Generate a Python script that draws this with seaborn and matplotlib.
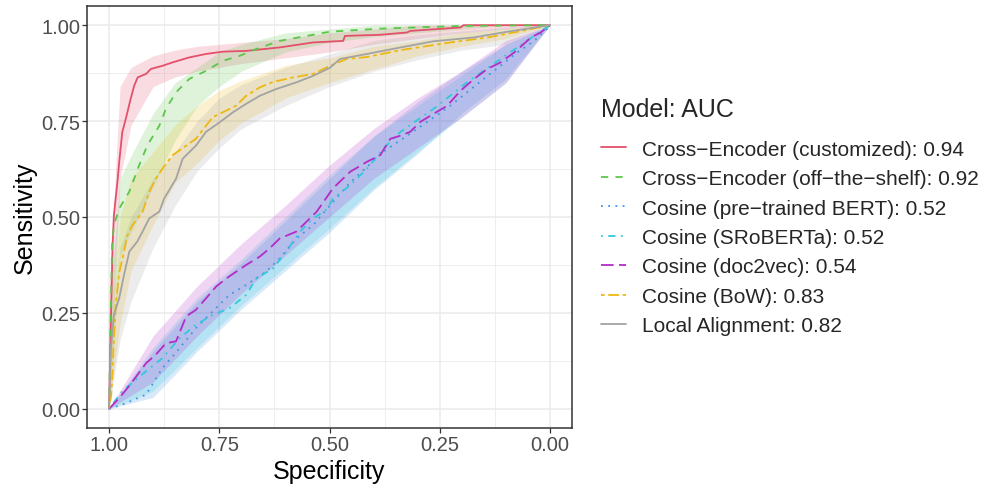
import numpy as np
import pandas as pd
import matplotlib
matplotlib.use("Agg")
import matplotlib.pyplot as plt
import seaborn as sns

# ---- data ----
models = ["Cross\u2212Encoder (customized)", "Cross\u2212Encoder (off\u2212the\u2212shelf)",
          "Cosine (pre\u2212trained BERT)", "Cosine (SRoBERTa)", "Cosine (doc2vec)",
          "Cosine (BoW)", "Local Alignment"]
auc = [0.94, 0.92, 0.52, 0.52, 0.54, 0.83, 0.82]
colors = ["#E4506A", "#5CC64A", "#3D97E4", "#2FC8DC", "#B42CC6", "#EDB812", "#A3A3A3"]
dash_styles = ["", (4, 4), (1, 3), (1, 3, 4, 3), (7, 3), (2, 2, 6, 2), ""]

# ROC curves: specificity / sensitivity
spec_red = [1.0, 0.996, 0.992, 0.989, 0.981, 0.977, 0.970, 0.962, 0.951, 0.943, 0.935, 0.916, 0.905,
            0.879, 0.856, 0.818, 0.780, 0.742, 0.689, 0.613, 0.537, 0.469, 0.465, 0.385, 0.324, 0.317,
            0.203, 0.196, 0.0]
sens_red = [0.0, 0.22, 0.427, 0.505, 0.591, 0.643, 0.721, 0.756, 0.808, 0.842, 0.864, 0.873, 0.886,
            0.894, 0.903, 0.916, 0.925, 0.931, 0.933, 0.942, 0.955, 0.959, 0.972, 0.975, 0.981, 0.985,
            0.994, 1.0, 1.0]

spec_green = [1.0, 0.997, 0.993, 0.989, 0.977, 0.954, 0.932, 0.913, 0.886, 0.871, 0.848, 0.818, 0.780,
              0.742, 0.704, 0.666, 0.613, 0.552, 0.499, 0.385, 0.203, 0.0]
sens_green = [0.0, 0.2, 0.427, 0.479, 0.522, 0.566, 0.634, 0.687, 0.738, 0.782, 0.825, 0.860, 0.881,
              0.907, 0.920, 0.938, 0.959, 0.972, 0.983, 0.991, 0.998, 1.0]

spec_blue = [1.0, 0.97, 0.916, 0.879, 0.84, 0.803, 0.765, 0.727, 0.689, 0.643, 0.613, 0.575, 0.537,
             0.499, 0.453, 0.378, 0.301, 0.226, 0.150, 0.074, 0.036, 0.007, 0.0]
sens_blue = [0.0, 0.011, 0.037, 0.106, 0.158, 0.21, 0.254, 0.297, 0.323, 0.358, 0.392, 0.444, 0.479,
             0.53, 0.59, 0.670, 0.730, 0.790, 0.860, 0.929, 0.959, 0.99, 1.0]

spec_cyan = [1.0, 0.97, 0.916, 0.879, 0.84, 0.803, 0.765, 0.727, 0.689, 0.666, 0.628, 0.598, 0.567,
             0.537, 0.506, 0.492, 0.453, 0.415, 0.378, 0.339, 0.264, 0.188, 0.112, 0.036, 0.0]
sens_cyan = [0.0, 0.046, 0.098, 0.132, 0.184, 0.219, 0.245, 0.262, 0.297, 0.340, 0.366, 0.41, 0.462,
             0.496, 0.52, 0.548, 0.583, 0.626, 0.678, 0.722, 0.782, 0.851, 0.912, 0.972, 1.0]

spec_purple = [1.0, 0.977, 0.954, 0.916, 0.894, 0.871, 0.848, 0.825, 0.803, 0.780, 0.757, 0.734, 0.689,
               0.658, 0.636, 0.613, 0.575, 0.529, 0.492, 0.453, 0.415, 0.385, 0.362, 0.339, 0.317, 0.294,
               0.264, 0.233, 0.203, 0.172, 0.142, 0.112, 0.081, 0.043, 0.021, 0.0]
sens_purple = [0.0, 0.028, 0.06, 0.119, 0.141, 0.171, 0.176, 0.241, 0.258, 0.288, 0.319, 0.340, 0.375,
               0.397, 0.418, 0.444, 0.462, 0.514, 0.575, 0.618, 0.644, 0.661, 0.704, 0.712, 0.722, 0.748,
               0.769, 0.790, 0.829, 0.860, 0.886, 0.903, 0.929, 0.968, 0.981, 1.0]

spec_yellow = [1.0, 0.995, 0.992, 0.989, 0.985, 0.977, 0.966, 0.959, 0.947, 0.924, 0.909, 0.894, 0.879,
               0.856, 0.825, 0.803, 0.780, 0.765, 0.742, 0.712, 0.689, 0.658, 0.628, 0.582, 0.537, 0.499,
               0.461, 0.415, 0.339, 0.226, 0.141, 0.073, 0.0]
sens_yellow = [0.0, 0.037, 0.098, 0.184, 0.27, 0.355, 0.41, 0.45, 0.479, 0.513, 0.565, 0.600, 0.626,
               0.661, 0.686, 0.704, 0.738, 0.760, 0.773, 0.790, 0.816, 0.838, 0.852, 0.864, 0.873, 0.894,
               0.912, 0.917, 0.935, 0.955, 0.968, 0.983, 1.0]

spec_gray = [1.0, 0.996, 0.989, 0.977, 0.966, 0.954, 0.936, 0.924, 0.909, 0.886, 0.875, 0.848, 0.833,
             0.803, 0.780, 0.749, 0.719, 0.689, 0.658, 0.620, 0.575, 0.537, 0.499, 0.476, 0.415, 0.339,
             0.264, 0.173, 0.096, 0.0]
sens_gray = [0.0, 0.158, 0.245, 0.288, 0.349, 0.41, 0.436, 0.462, 0.496, 0.514, 0.548, 0.6, 0.652,
             0.686, 0.722, 0.747, 0.773, 0.795, 0.816, 0.834, 0.851, 0.868, 0.889, 0.912, 0.925, 0.942,
             0.958, 0.968, 0.983, 1.0]

# confidence bands of sensitivity at fixed specificities
ci_grid = [1.0, 0.975, 0.95, 0.9, 0.85, 0.8, 0.75, 0.7, 0.6, 0.5, 0.4, 0.3, 0.2, 0.1, 0.0]
red_lo = [0.0, 0.60, 0.74, 0.84, 0.865, 0.88, 0.89, 0.90, 0.915, 0.93, 0.95, 0.965, 0.98, 0.99, 1.0]
red_hi = [0.30, 0.84, 0.89, 0.92, 0.935, 0.945, 0.95, 0.955, 0.965, 0.98, 0.99, 1.0, 1.0, 1.0, 1.0]
green_lo = [0.0, 0.40, 0.46, 0.58, 0.70, 0.79, 0.84, 0.88, 0.93, 0.955, 0.97, 0.98, 0.99, 1.0, 1.0]
green_hi = [0.25, 0.60, 0.66, 0.77, 0.85, 0.89, 0.93, 0.95, 0.98, 0.99, 1.0, 1.0, 1.0, 1.0, 1.0]
yellow_lo = [0.0, 0.22, 0.36, 0.48, 0.59, 0.64, 0.70, 0.745, 0.81, 0.85, 0.885, 0.92, 0.945, 0.965, 1.0]
yellow_hi = [0.15, 0.50, 0.60, 0.67, 0.74, 0.79, 0.83, 0.855, 0.895, 0.915, 0.945, 0.96, 0.98, 0.99, 1.0]
gray_lo = [0.0, 0.18, 0.28, 0.42, 0.53, 0.62, 0.68, 0.73, 0.79, 0.84, 0.88, 0.91, 0.935, 0.95, 1.0]
gray_hi = [0.10, 0.42, 0.50, 0.60, 0.67, 0.75, 0.81, 0.845, 0.89, 0.925, 0.96, 0.975, 0.985, 0.995, 1.0]

diag_grid = [1.0, 0.9, 0.8, 0.7, 0.6, 0.5, 0.4, 0.3, 0.2, 0.1, 0.0]
blue_lo = [0.0, 0.03, 0.15, 0.26, 0.36, 0.46, 0.57, 0.665, 0.77, 0.86, 1.0]
blue_hi = [0.0, 0.15, 0.28, 0.38, 0.49, 0.60, 0.71, 0.80, 0.88, 0.95, 1.0]
cyan_lo = [0.0, 0.046, 0.16, 0.27, 0.37, 0.47, 0.575, 0.67, 0.76, 0.85, 1.0]
cyan_hi = [0.0, 0.16, 0.29, 0.39, 0.50, 0.61, 0.71, 0.79, 0.87, 0.95, 1.0]
purple_lo = [0.0, 0.07, 0.19, 0.30, 0.40, 0.50, 0.60, 0.68, 0.76, 0.85, 1.0]
purple_hi = [0.0, 0.19, 0.32, 0.43, 0.53, 0.635, 0.73, 0.81, 0.88, 0.96, 1.0]

curves = [(spec_red, sens_red), (spec_green, sens_green), (spec_blue, sens_blue),
          (spec_cyan, sens_cyan), (spec_purple, sens_purple), (spec_yellow, sens_yellow),
          (spec_gray, sens_gray)]
bands = [(ci_grid, red_lo, red_hi), (ci_grid, green_lo, green_hi), (diag_grid, blue_lo, blue_hi),
         (diag_grid, cyan_lo, cyan_hi), (diag_grid, purple_lo, purple_hi),
         (ci_grid, yellow_lo, yellow_hi), (ci_grid, gray_lo, gray_hi)]

labels = [f"{m}: {a:.2f}" for m, a in zip(models, auc)]

rows = []
for lab, (sp, se) in zip(labels, curves):
    for x, y in zip(sp, se):
        rows.append({"model": lab, "spec": x, "sens": y})
df = pd.DataFrame(rows)

# ---- plot ----
sns.set_style("white")
plt.rcParams["font.family"] = ["Liberation Sans", "DejaVu Sans"]

fig = plt.figure(figsize=(9.83, 4.85), dpi=100)
ax = fig.add_axes([87 / 983, 1 - 429 / 485, (572 - 87) / 983, (429 - 7) / 485])

for (g, lo, hi), c in zip(bands, colors):
    ax.fill_between(g, lo, hi, color=c, alpha=0.2, linewidth=0)

sns.lineplot(data=df, x="spec", y="sens", hue="model", style="model",
             palette=dict(zip(labels, colors)), dashes=dict(zip(labels, dash_styles)),
             sort=False, estimator=None, linewidth=1.3, ax=ax)

ax.set_xlim(1.05, -0.05)
ax.set_ylim(-0.05, 1.05)
ticks = [1.0, 0.75, 0.5, 0.25, 0.0]
ax.set_xticks(ticks)
ax.set_xticklabels([f"{t:.2f}" for t in ticks])
ax.set_yticks(ticks)
ax.set_yticklabels([f"{t:.2f}" for t in ticks])
ax.set_xticks([0.875, 0.625, 0.375, 0.125], minor=True)
ax.set_yticks([0.875, 0.625, 0.375, 0.125], minor=True)
ax.grid(True, which="major", color="#EBEBEB", linewidth=1.1)
ax.grid(True, which="minor", color="#EBEBEB", linewidth=0.6)
ax.set_axisbelow(True)
ax.tick_params(which="major", direction="out", length=3.5, width=0.9, color="#333333",
               labelsize=14.5, labelcolor="#4D4D4D", pad=1.5)
ax.tick_params(which="minor", length=0)
ax.tick_params(axis="x", bottom=True)
ax.tick_params(axis="y", left=True)
for s in ax.spines.values():
    s.set_color("#333333")
    s.set_linewidth(1.1)

ax.set_xlabel("Specificity", fontsize=18, labelpad=4, color="black")
ax.set_ylabel("Sensitivity", fontsize=18, labelpad=3, color="black")

handles, labs = ax.get_legend_handles_labels()
ax.get_legend().remove()
leg = fig.legend(handles, labs, title="Model: AUC", loc="upper left",
                 bbox_to_anchor=(591 / 983, 1 - 88 / 485), frameon=False,
                 fontsize=15, title_fontsize=18, handlelength=1.2, handletextpad=0.75,
                 labelspacing=0.50, borderpad=0.5, borderaxespad=0)
leg._legend_box.align = "left"
leg._legend_box.sep = 13.2  # gap between title and entries

fig.savefig("out.png", dpi=100)
